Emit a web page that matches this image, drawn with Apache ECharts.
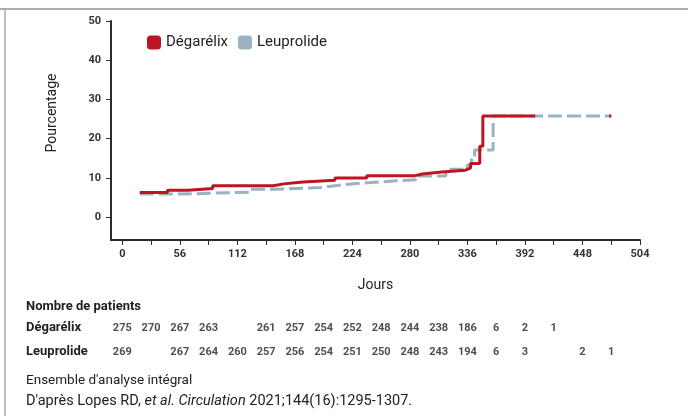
<!DOCTYPE html>
<html>
<head>
<meta charset="utf-8">
<script src="https://cdn.jsdelivr.net/npm/echarts@6/dist/echarts.min.js"></script>
<style>
html,body{margin:0;padding:0;background:#fff;}
#chart{width:688px;height:416px;}
</style>
</head>
<body>
<div id="chart"></div>
<script>
// ---- Data ----
const seriesNames = ['Dégarélix', 'Leuprolide'];
const degarelixDays   = [17, 44, 64, 88, 147, 157, 176, 207, 238, 285, 292, 311, 334, 339, 348, 351, 402];
const degarelixValues = [6.3, 6.9, 7.3, 8.0, 8.5, 9.0, 9.4, 10.0, 10.6, 11.0, 11.5, 12.0, 12.5, 13.7, 18.1, 25.8, 25.8];
const degarelixTailDays   = [474, 476];
const degarelixTailValues = [25.8, 25.8];
const leuprolideDays   = [17, 45, 72, 124, 147, 193, 209, 228, 258, 288, 315, 336, 340, 343, 361, 476];
const leuprolideValues = [5.9, 6.0, 6.4, 7.1, 7.6, 8.1, 8.6, 9.1, 9.6, 10.5, 12.2, 13.3, 15.0, 17.1, 25.8, 25.8];

const xTickValues  = [0, 28, 56, 84, 112, 140, 168, 196, 224, 252, 280, 308, 336, 364, 392, 420, 448, 476, 504];
const xLabelValues = [0, 56, 112, 168, 224, 280, 336, 392, 448, 504];
const yTickValues  = [0, 10, 20, 30, 40, 50];

const riskDays = [0, 28, 56, 84, 112, 140, 168, 196, 224, 252, 280, 308, 336, 364, 392, 420, 448, 476];
const degarelixAtRisk  = [275, 270, 267, 263, null, 261, 257, 254, 252, 248, 244, 238, 186, 6, 2, 1, null, null];
const leuprolideAtRisk = [269, null, 267, 264, 260, 257, 256, 254, 251, 250, 248, 243, 194, 6, 3, null, 2, 1];

// ---- Build ----
const zip = (xs, ys) => xs.map((x, i) => [x, ys[i]]);
const riskData = [];
[degarelixAtRisk, leuprolideAtRisk].forEach((arr, row) => {
  arr.forEach((v, i) => { if (v !== null) riskData.push([riskDays[i], row, v]); });
});

const RED = '#be1522';
const BLUE = '#99b3c1';
const FONT = 'Roboto, "DejaVu Sans", sans-serif';
const AXIS = '#2b2b2b';

const chart = echarts.init(document.getElementById('chart'), null, {renderer: 'canvas'});
chart.setOption({
  backgroundColor: '#fff',
  animation: false,
  textStyle: {fontFamily: FONT},
  legend: {
    left: 142, top: 30,
    icon: 'roundRect',
    itemWidth: 14, itemHeight: 14, itemGap: 10,
    data: seriesNames,
    textStyle: {fontSize: 15, color: '#222', fontFamily: FONT},
    itemStyle: {borderWidth: 0}
  },
  grid: [
    {left: 111, right: 48, top: 21, bottom: 176},
    {left: 111, right: 48, top: 316, height: 48}
  ],
  xAxis: [
    {
      type: 'value', gridIndex: 0, min: -11, max: 504,
      name: 'Jours', nameLocation: 'middle', nameGap: 38,
      nameTextStyle: {fontSize: 14, color: '#222', fontFamily: FONT},
      axisLine: {show: true, onZero: false, lineStyle: {color: AXIS, width: 2}},
      axisTick: {show: true, customValues: xTickValues, length: 5, lineStyle: {color: AXIS, width: 1}},
      axisLabel: {customValues: xLabelValues, margin: 9, fontSize: 11, fontWeight: 'bold', color: '#333', fontFamily: FONT},
      splitLine: {show: false}
    },
    {
      type: 'value', gridIndex: 1, min: -11, max: 504, show: false
    }
  ],
  yAxis: [
    {
      type: 'value', gridIndex: 0, min: -5.8, max: 50,
      axisLine: {show: true, onZero: false, lineStyle: {color: AXIS, width: 2}},
      axisTick: {show: true, customValues: yTickValues, length: 5, lineStyle: {color: AXIS, width: 1}},
      axisLabel: {customValues: yTickValues, margin: 10, fontSize: 11, fontWeight: 'bold', color: '#333', fontFamily: FONT},
      splitLine: {show: false}
    },
    {
      type: 'category', gridIndex: 1, data: seriesNames, inverse: true, show: false
    }
  ],
  series: [
    {
      name: 'Leuprolide', type: 'line', step: 'end', xAxisIndex: 0, yAxisIndex: 0,
      data: zip(leuprolideDays, leuprolideValues), showSymbol: false, symbol: 'none',
      lineStyle: {color: BLUE, width: 3, type: [14, 5]},
      itemStyle: {color: BLUE}, z: 2
    },
    {
      name: 'Dégarélix', type: 'line', step: 'end', xAxisIndex: 0, yAxisIndex: 0,
      data: zip(degarelixDays, degarelixValues), showSymbol: false, symbol: 'none',
      lineStyle: {color: RED, width: 3},
      itemStyle: {color: RED}, z: 3
    },
    {
      name: 'Dégarélix fin', type: 'line', xAxisIndex: 0, yAxisIndex: 0,
      data: zip(degarelixTailDays, degarelixTailValues), showSymbol: false, symbol: 'none',
      lineStyle: {color: RED, width: 3}, z: 3
    },
    {
      name: 'risk', type: 'scatter', xAxisIndex: 1, yAxisIndex: 1,
      data: riskData, symbolSize: 0, silent: true,
      label: {show: true, position: 'inside', formatter: p => p.value[2], fontSize: 11, fontWeight: 'bold', color: '#222', fontFamily: FONT}
    }
  ],
  graphic: [
    {type: 'line', shape: {x1: 0, y1: 9, x2: 688, y2: 9}, style: {stroke: '#aaaaaa', lineWidth: 2}},
    {type: 'line', shape: {x1: 5, y1: 8, x2: 5, y2: 416}, style: {stroke: '#aaaaaa', lineWidth: 1.5}},
    {type: 'text', x: 52, y: 113, rotation: Math.PI / 2, style: {text: 'Pourcentage', fontSize: 14, fill: '#222', fontFamily: FONT, align: 'center', verticalAlign: 'middle'}},
    {type: 'text', x: 26, y: 307, style: {text: 'Nombre de patients', fontSize: 13, fontWeight: 'bold', fill: '#222', fontFamily: FONT, verticalAlign: 'middle'}},
    {type: 'text', x: 26, y: 328, style: {text: seriesNames[0], fontSize: 13, fontWeight: 'bold', fill: '#222', fontFamily: FONT, verticalAlign: 'middle'}},
    {type: 'text', x: 26, y: 352, style: {text: seriesNames[1], fontSize: 13, fontWeight: 'bold', fill: '#222', fontFamily: FONT, verticalAlign: 'middle'}},
    {type: 'text', x: 26, y: 381, style: {text: "Ensemble d'analyse intégral", fontSize: 13.5, fill: '#222', fontFamily: FONT, verticalAlign: 'middle'}},
    {type: 'text', x: 26, y: 401, style: {
      text: "{n|D'après Lopes RD, }{i|et al.}{n| }{i|Circulation}{n| 2021;144(16):1295-1307.}",
      rich: {
        n: {fontSize: 14.5, fill: '#222', fontFamily: FONT},
        i: {fontSize: 14.5, fill: '#222', fontFamily: FONT, fontStyle: 'italic'}
      },
      verticalAlign: 'middle'}}
  ]
});
</script>
</body>
</html>
